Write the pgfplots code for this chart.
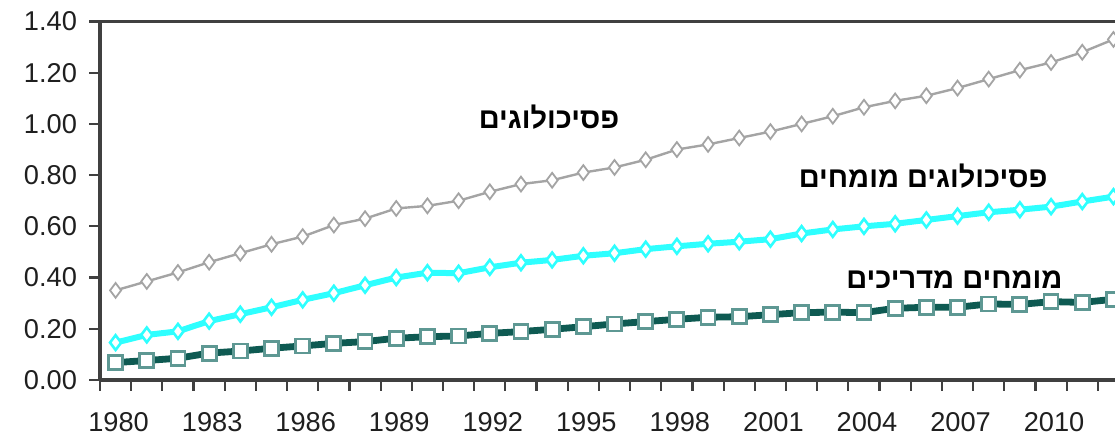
\documentclass[border=0pt]{standalone}
\usepackage{pgfplots}
\pgfplotsset{compat=1.18}
\usepackage{pgfplotstable}
\usepackage{fontspec}
\setmainfont{Liberation Sans}
\newfontfamily\hebfont[Script=Hebrew]{Liberation Sans}
\TeXXeTstate=1
\definecolor{gr}{HTML}{A4A4A4}
\definecolor{cy}{HTML}{2EFFFF}
\definecolor{tealline}{HTML}{0E5A52}
\definecolor{tealmark}{HTML}{5E9893}
\definecolor{axc}{HTML}{404040}

\pgfplotstableread{
year psy exp sup
1980 0.350 0.146 0.068
1981 0.385 0.176 0.076
1982 0.420 0.190 0.085
1983 0.460 0.230 0.105
1984 0.495 0.257 0.113
1985 0.530 0.284 0.124
1986 0.560 0.313 0.133
1987 0.605 0.339 0.143
1988 0.630 0.370 0.150
1989 0.670 0.400 0.163
1990 0.680 0.419 0.169
1991 0.700 0.417 0.172
1992 0.735 0.440 0.182
1993 0.765 0.458 0.189
1994 0.780 0.469 0.198
1995 0.810 0.485 0.208
1996 0.830 0.495 0.219
1997 0.860 0.511 0.228
1998 0.900 0.522 0.237
1999 0.920 0.532 0.245
2000 0.945 0.540 0.247
2001 0.970 0.550 0.255
2002 1.000 0.572 0.263
2003 1.030 0.588 0.265
2004 1.065 0.600 0.263
2005 1.090 0.610 0.280
2006 1.110 0.625 0.284
2007 1.140 0.640 0.284
2008 1.175 0.655 0.297
2009 1.210 0.665 0.295
2010 1.240 0.677 0.306
2011 1.280 0.697 0.303
2012 1.330 0.716 0.315
}\data

\begin{document}
\begin{tikzpicture}
\begin{axis}[
  at={(0,0)}, anchor=south west,
  scale only axis, width=507.5pt, height=179.25pt,
  xmin=1979.5, xmax=2012.05, ymin=0, ymax=1.4,
  axis x line=box, axis y line=left,
  axis line style={-, draw=axc, line width=1.6pt},
  tick align=outside, xtick pos=left, ytick pos=left,
  major tick length=5.5pt,
  tick style={draw=axc, line width=1.1pt},
  xtick={1979.5,1980.5,...,2011.5}, xticklabels={},
  extra x ticks={1980,1983,1986,1989,1992,1995,1998,2001,2004,2007,2010},
  extra x tick labels={1980,1983,1986,1989,1992,1995,1998,2001,2004,2007,2010},
  extra x tick style={major tick length=0pt},
  ytick={0,0.2,0.4,0.6,0.8,1.0,1.2,1.4},
  /pgf/number format/assume math mode=true,
  yticklabel style={/pgf/number format/fixed, /pgf/number format/fixed zerofill, /pgf/number format/precision=2},
  tick label style={font=\fontsize{13.6}{15}\selectfont, text=black!88},
  x tick label style={anchor=north, yshift=-12.5pt, xshift=1.5pt},
  y tick label style={anchor=east, xshift=-2.5pt},
  clip=true,
]
\addplot[gr, line width=1.2pt, mark=diamond*, mark size=3.7pt,
  mark options={fill=white, draw=gr, line width=0.9pt}] table[x=year, y=psy] {\data};
\addplot[cy, line width=3pt, mark=diamond*, mark size=3.7pt,
  mark options={fill=white, draw=cy, line width=1.3pt}] table[x=year, y=exp] {\data};
\addplot[tealline, line width=3.4pt, mark=square*, mark size=3.5pt,
  mark options={fill=white, draw=tealmark, line width=1.4pt}] table[x=year, y=sup] {\data};
\node[font=\hebfont\bfseries\fontsize{14.5}{16}\selectfont, text=black] at (axis cs:1993.9,1.028) {\beginR פסיכולוגים\endR};
\node[font=\hebfont\bfseries\fontsize{14.5}{16}\selectfont, text=black] at (axis cs:2005.9,0.797) {\beginR פסיכולוגים מומחים\endR};
\node[font=\hebfont\bfseries\fontsize{14.5}{16}\selectfont, text=black] at (axis cs:2006.9,0.39) {\beginR מומחים מדריכים\endR};
\end{axis}
\pgfresetboundingbox
\path[use as bounding box] (-50pt,-31pt) rectangle (507.5pt,190pt);
\end{tikzpicture}
\end{document}
